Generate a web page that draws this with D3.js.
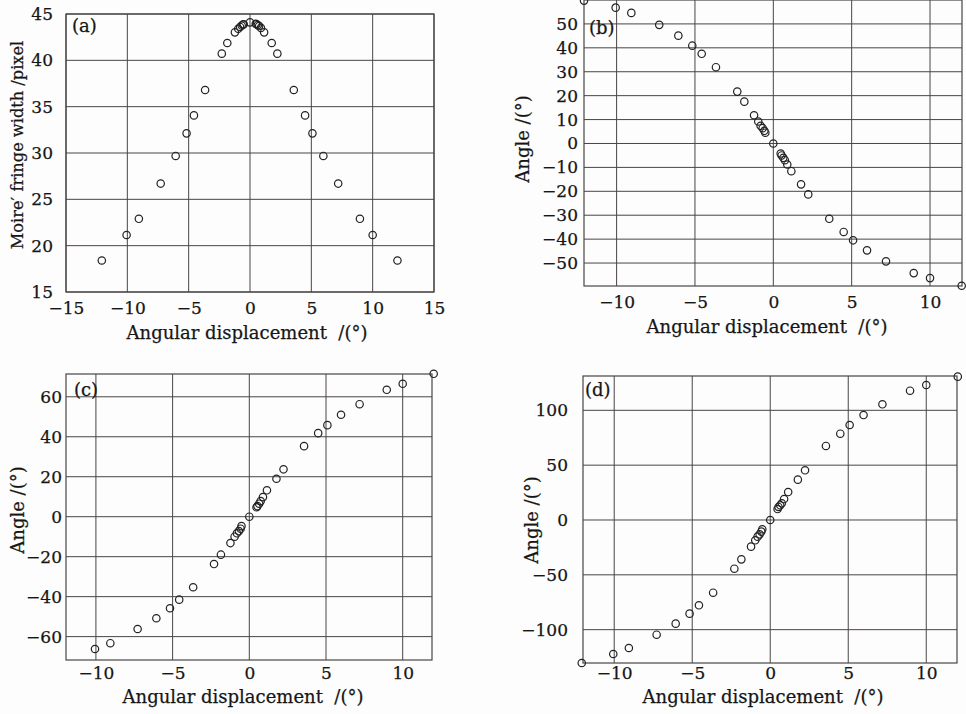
<!DOCTYPE html>
<html>
<head>
<meta charset="utf-8">
<script src="https://cdn.jsdelivr.net/npm/d3@7"></script>
<style>
  html, body { margin: 0; padding: 0; background: #fdfdfd; }
  svg { display: block; }
  text { font-family: "DejaVu Serif", serif; fill: #161616; stroke: #161616; stroke-width: 0.25px; }
</style>
</head>
<body>
<svg id="chart" width="966" height="714"></svg>
<script>
// Angular displacement (°) shared by all four measurements
const displacement = [-12.08, -10.06, -9.06, -7.28, -6.06, -5.17, -4.57, -3.66, -2.30, -1.85,
  -1.23, -0.96, -0.81, -0.68, -0.57, -0.51, 0, 0.47, 0.53, 0.64, 0.74, 0.89, 1.15, 1.77,
  2.23, 3.57, 4.49, 5.09, 5.98, 7.19, 8.96, 10.0, 12.02];

// (a) Moiré fringe width, pixel
const fringeWidth = [18.4, 21.15, 22.9, 26.7, 29.68, 32.12, 34.06, 36.8, 40.72, 41.87,
  43.02, 43.4, 43.6, 43.75, 43.85, 43.9, 44.1, 43.95, 43.9, 43.8, 43.7, 43.5, 43.02, 41.87,
  40.72, 36.8, 34.06, 32.12, 29.68, 26.7, 22.9, 21.15, 18.4];

// (b) fringe angle, °
const angleB = [59.75, 56.8, 54.6, 49.6, 45.1, 40.9, 37.5, 31.9, 21.7, 17.5,
  11.8, 9.2, 7.4, 6.4, 5.3, 4.5, 0, -4.2, -5.0, -6.0, -7.0, -8.8, -11.6, -17.1,
  -21.3, -31.5, -37.0, -40.5, -44.7, -49.3, -54.2, -56.3, -59.5];

// (c) fringe angle, ° (no reading at the first displacement)
const angleC = [null, -66.2, -63.3, -56.2, -50.8, -45.8, -41.5, -35.3, -23.7, -19.0,
  -13.2, -10.0, -8.3, -7.2, -6.0, -4.7, 0, 4.7, 5.3, 6.5, 7.8, 9.8, 13.2, 19.0,
  23.7, 35.3, 41.8, 45.8, 51.0, 56.3, 63.5, 66.5, 71.5];

// (d) fringe angle, °
const angleD = [-130.4, -122.2, -116.7, -104.6, -94.5, -85.4, -77.8, -66.3, -44.4, -35.9,
  -24.3, -18.5, -15.2, -13.1, -10.6, -8.5, 0, 10.0, 11.9, 13.4, 15.2, 19.1, 25.5, 36.8,
  45.3, 67.5, 78.7, 86.6, 95.7, 105.5, 117.9, 123.1, 130.7];

// Tick values
const ticksXA = [-15, -10, -5, 0, 5, 10, 15];
const ticksYA = [15, 20, 25, 30, 35, 40, 45];
const ticksX = [-10, -5, 0, 5, 10];
const ticksYB = [-50, -40, -30, -20, -10, 0, 10, 20, 30, 40, 50];
const ticksYC = [-60, -40, -20, 0, 20, 40, 60];
const ticksYD = [-100, -50, 0, 50, 100];

const xTitle = "Angular displacement \u00a0/(°)";
const yTitleA = "Moire\u2032 fringe width /pixel";
const yTitle = "Angle /(°)";

const svg = d3.select("#chart");
const lineColor = "#4a4545";

function drawPanel(p) {
  const x = d3.scaleLinear().domain(p.xDomain).range([p.left, p.right]);
  const y = d3.scaleLinear().domain(p.yDomain).range([p.bottom, p.top]);
  const g = svg.append("g");

  // grid
  g.append("g").selectAll("line").data(p.xTicks).join("line")
    .attr("x1", d => x(d)).attr("x2", d => x(d))
    .attr("y1", p.top).attr("y2", p.bottom)
    .attr("stroke", lineColor).attr("stroke-width", 1);
  g.append("g").selectAll("line").data(p.yTicks).join("line")
    .attr("x1", p.left).attr("x2", p.right)
    .attr("y1", d => y(d)).attr("y2", d => y(d))
    .attr("stroke", lineColor).attr("stroke-width", 1);

  // frame
  g.append("rect")
    .attr("x", p.left).attr("y", p.top)
    .attr("width", p.right - p.left).attr("height", p.bottom - p.top)
    .attr("fill", "none").attr("stroke", lineColor).attr("stroke-width", 1.2);

  // axes (labels only; grid and frame drawn above)
  const xa = g.append("g").attr("transform", `translate(0,${p.bottom})`)
    .call(d3.axisBottom(x).tickValues(p.xTicks).tickSize(0).tickPadding(p.xPad));
  const ya = g.append("g").attr("transform", `translate(${p.left},0)`)
    .call(d3.axisLeft(y).tickValues(p.yTicks).tickSize(0).tickPadding(p.yPad));
  [xa, ya].forEach(a => {
    a.select(".domain").remove();
    a.selectAll("text").attr("font-family", "DejaVu Serif").attr("font-size", 17).attr("fill", "#161616");
  });

  // points
  const pts = displacement.map((d, i) => [d, p.values[i]]).filter(d => d[1] != null);
  g.append("g").selectAll("circle").data(pts).join("circle")
    .attr("cx", d => x(d[0])).attr("cy", d => y(d[1]))
    .attr("r", 3.7)
    .attr("fill", "none").attr("stroke", "#222").attr("stroke-width", 1.2);

  // titles
  g.append("text").attr("x", p.xTitleX).attr("y", p.xTitleY)
    .attr("text-anchor", "middle").attr("font-size", 18).text(xTitle);
  g.append("text")
    .attr("transform", `translate(${p.yTitleX},${p.yTitleY}) rotate(-90)`)
    .attr("text-anchor", "middle").attr("dy", "0.35em")
    .attr("font-size", p.yTitleSize).text(p.yTitle);
  g.append("text").attr("x", p.tagX).attr("y", p.tagY)
    .attr("font-size", 18).text(p.tag);
}

drawPanel({ left: 66, right: 434, top: 14, bottom: 292,
  xDomain: [-15, 15], yDomain: [15, 45], xTicks: ticksXA, yTicks: ticksYA,
  values: fringeWidth, xPad: 10, yPad: 13,
  xTitleX: 247, xTitleY: 339, yTitleX: 17, yTitleY: 145, yTitleSize: 16.2, yTitle: yTitleA,
  tag: "(a)", tagX: 72, tagY: 32 });

drawPanel({ left: 584, right: 962, top: 0, bottom: 286,
  xDomain: [-12.08, 12.04], yDomain: [-59.6, 60], xTicks: ticksX, yTicks: ticksYB,
  values: angleB, xPad: 10, yPad: 6,
  xTitleX: 767, xTitleY: 333, yTitleX: 523, yTitleY: 139, yTitleSize: 18, yTitle: yTitle,
  tag: "(b)", tagX: 589, tagY: 34 });

drawPanel({ left: 66, right: 432, top: 374, bottom: 660,
  xDomain: [-11.95, 11.91], yDomain: [-71.7, 71.4], xTicks: ticksX, yTicks: ticksYC,
  values: angleC, xPad: 7, yPad: 4,
  xTitleX: 243, xTitleY: 703, yTitleX: 18, yTitleY: 510, yTitleSize: 18, yTitle: yTitle,
  tag: "(c)", tagX: 74, tagY: 396 });

drawPanel({ left: 583, right: 957, top: 376, bottom: 663,
  xDomain: [-12.0, 11.97], yDomain: [-130.4, 131.3], xTicks: ticksX, yTicks: ticksYD,
  values: angleD, xPad: 4, yPad: 15,
  xTitleX: 763, xTitleY: 703, yTitleX: 532, yTitleY: 520, yTitleSize: 18, yTitle: yTitle,
  tag: "(d)", tagX: 585, tagY: 396 });
</script>
</body>
</html>
